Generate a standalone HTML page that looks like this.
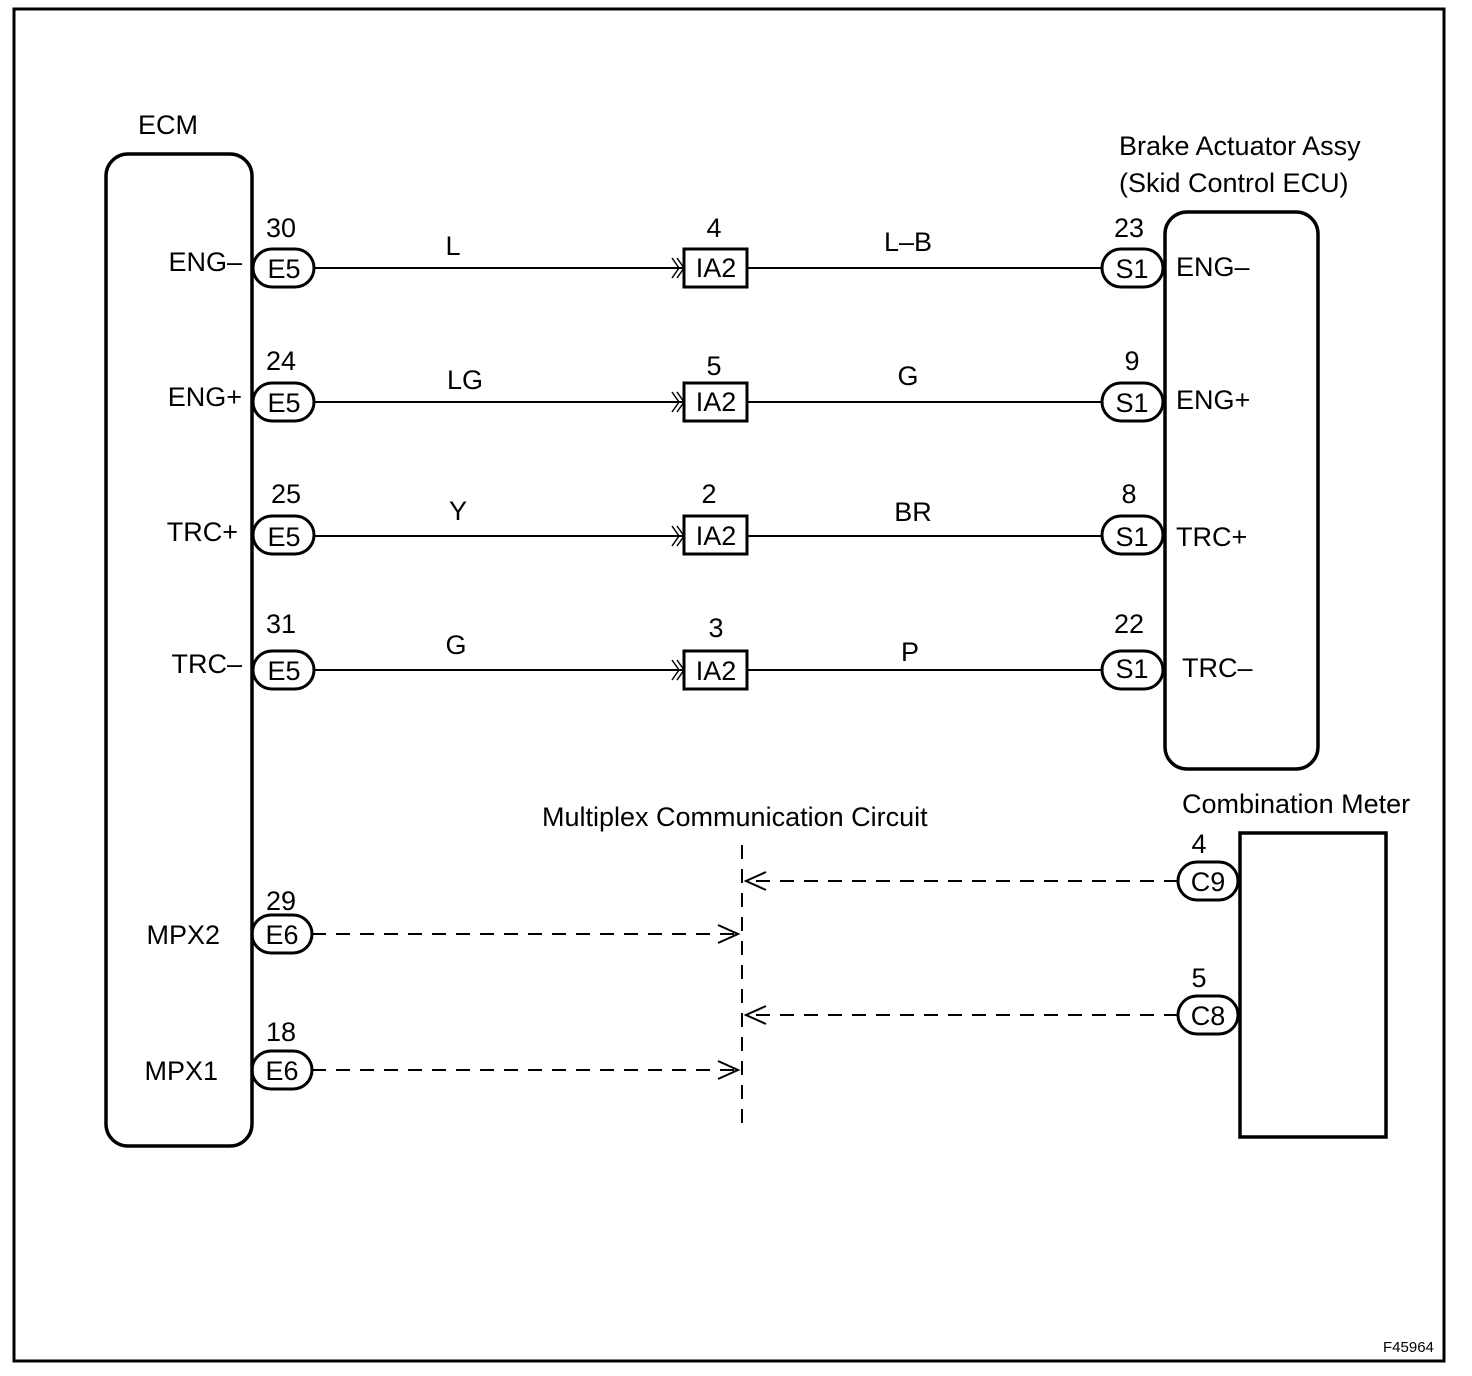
<!DOCTYPE html>
<html><head><meta charset="utf-8"><style>
html,body{margin:0;padding:0;background:#fff;}
svg{display:block;}
text{font-family:"Liberation Sans",Arial,sans-serif;font-size:27px;fill:#000;}
.s{font-size:15px;}
</style></head><body>
<svg width="1472" height="1376" viewBox="0 0 1472 1376" xmlns="http://www.w3.org/2000/svg">
<g fill="none" stroke="#000">
<rect x="14" y="9" width="1430" height="1352" stroke-width="3"/>
<rect x="106" y="154" width="146" height="992" rx="22" stroke-width="3.5"/>
<rect x="1165" y="212" width="153" height="557" rx="22" stroke-width="3.5"/>
<rect x="1240" y="833" width="146" height="304" stroke-width="3.5"/>
<g stroke-width="3">
<rect x="253" y="249" width="61" height="38" rx="19"/>
<rect x="253" y="383" width="61" height="38" rx="19"/>
<rect x="253" y="516" width="61" height="38" rx="19"/>
<rect x="253" y="651" width="61" height="38" rx="19"/>
<rect x="252" y="915" width="60" height="38" rx="19"/>
<rect x="252" y="1051" width="60" height="38" rx="19"/>
<rect x="1102" y="249" width="61" height="38" rx="19"/>
<rect x="1102" y="383" width="61" height="38" rx="19"/>
<rect x="1102" y="516" width="61" height="38" rx="19"/>
<rect x="1102" y="651" width="61" height="38" rx="19"/>
<rect x="1178" y="862" width="60" height="38" rx="19"/>
<rect x="1178" y="996" width="60" height="38" rx="19"/>
<rect x="684" y="249" width="63" height="38"/>
<rect x="684" y="383" width="63" height="38"/>
<rect x="684" y="516" width="63" height="38"/>
<rect x="684" y="651" width="63" height="38"/>
</g>
<g stroke-width="2">
<line x1="314" y1="268" x2="684" y2="268"/><line x1="747" y1="268" x2="1102" y2="268"/>
<line x1="314" y1="402" x2="684" y2="402"/><line x1="747" y1="402" x2="1102" y2="402"/>
<line x1="314" y1="536" x2="684" y2="536"/><line x1="747" y1="536" x2="1102" y2="536"/>
<line x1="314" y1="670" x2="684" y2="670"/><line x1="747" y1="670" x2="1102" y2="670"/>
</g>
<g stroke-width="1.5">
<path d="M672 258 L679 268 L672 278 M677 258 L684 268 L677 278"/>
<path d="M672 392 L679 402 L672 412 M677 392 L684 402 L677 412"/>
<path d="M672 526 L679 536 L672 546 M677 526 L684 536 L677 546"/>
<path d="M672 660 L679 670 L672 680 M677 660 L684 670 L677 680"/>
</g>
<g stroke-width="2" stroke-dasharray="14,10">
<line x1="742" y1="845" x2="742" y2="1132"/>
<line x1="1178" y1="881" x2="748" y2="881"/>
<line x1="1178" y1="1015" x2="748" y2="1015"/>
<line x1="312" y1="934" x2="736" y2="934"/>
<line x1="312" y1="1070" x2="736" y2="1070"/>
</g>
<g stroke-width="2">
<path d="M766 872 L746 881 L766 890"/>
<path d="M766 1006 L746 1015 L766 1024"/>
<path d="M718 925 L738 934 L718 943"/>
<path d="M718 1061 L738 1070 L718 1079"/>
</g>
</g>
<text x="138" y="134">ECM</text>
<text x="1119" y="155">Brake Actuator Assy</text>
<text x="1119" y="192">(Skid Control ECU)</text>
<text x="1182" y="813">Combination Meter</text>
<text x="542" y="826">Multiplex Communication Circuit</text>
<g text-anchor="end">
<text x="242" y="271">ENG–</text>
<text x="242" y="406">ENG+</text>
<text x="238" y="541">TRC+</text>
<text x="242" y="673">TRC–</text>
<text x="220" y="944">MPX2</text>
<text x="218" y="1080">MPX1</text>
</g>
<g text-anchor="middle">
<text x="284" y="278">E5</text><text x="284" y="412">E5</text><text x="284" y="546">E5</text><text x="284" y="680">E5</text>
<text x="282" y="944">E6</text><text x="282" y="1080">E6</text>
<text x="1132" y="278">S1</text><text x="1132" y="412">S1</text><text x="1132" y="546">S1</text><text x="1132" y="678">S1</text>
<text x="1208" y="891">C9</text><text x="1208" y="1025">C8</text>
<text x="716" y="277">IA2</text><text x="716" y="411">IA2</text><text x="716" y="545">IA2</text><text x="716" y="680">IA2</text>
<text x="281" y="237">30</text><text x="281" y="370">24</text><text x="286" y="503">25</text><text x="281" y="633">31</text>
<text x="281" y="910">29</text><text x="281" y="1041">18</text>
<text x="1129" y="237">23</text><text x="1132" y="370">9</text><text x="1129" y="503">8</text><text x="1129" y="633">22</text>
<text x="1199" y="853">4</text><text x="1199" y="987">5</text>
<text x="714" y="237">4</text><text x="714" y="375">5</text><text x="709" y="503">2</text><text x="716" y="637">3</text>
<text x="453" y="255">L</text><text x="465" y="389">LG</text><text x="458" y="520">Y</text><text x="456" y="654">G</text>
<text x="908" y="251">L–B</text><text x="908" y="385">G</text><text x="913" y="521">BR</text><text x="910" y="661">P</text>
</g>
<text x="1176" y="276">ENG–</text>
<text x="1176" y="409">ENG+</text>
<text x="1176" y="546">TRC+</text>
<text x="1182" y="677">TRC–</text>
<text class="s" x="1383" y="1352">F45964</text>
</svg>
</body></html>
